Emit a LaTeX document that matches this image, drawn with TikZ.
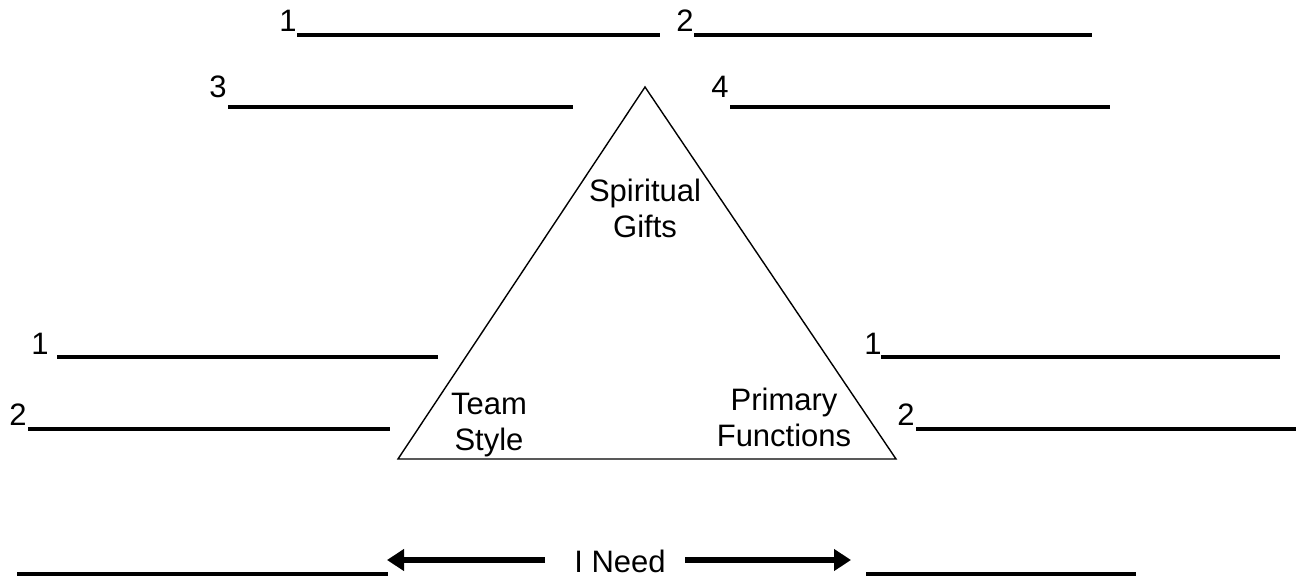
\documentclass[tikz,border=0pt]{standalone}
\usepackage{fontspec}
\setmainfont{Liberation Sans}
\usetikzlibrary{arrows.meta}
\begin{document}
\begin{tikzpicture}[x=1pt,y=-1pt,
  lbl/.style={font=\fontsize{31}{34}\selectfont, inner sep=0pt, anchor=base},
  txt/.style={font=\fontsize{31}{36}\selectfont, align=center, inner sep=0pt},
  blank/.style={line width=4pt},
  tri/.style={line width=1.4pt},
  bigarrow/.style={line width=6pt, -{Triangle[length=17pt,width=21pt]}}]
\useasboundingbox (0,0) rectangle (1304,578);
% top rows
\node[lbl] (n1) at (288,32) {1};
\draw[blank] (297,35) -- (660,35);
\node[lbl] (n2) at (685,32) {2};
\draw[blank] (694,35) -- (1092,35);
\node[lbl] (n3) at (218,97) {3};
\draw[blank] (228,107) -- (573,107);
\node[lbl] (n4) at (720,97) {4};
\draw[blank] (730,107) -- (1110,107);
% triangle
\coordinate (A) at (645,87);
\coordinate (B) at (398,459);
\coordinate (C) at (896,459);
\draw[tri,line join=miter] (A) -- (B) -- (C) -- cycle;
\node[txt] (sg) at (645,208) {Spiritual\\Gifts};
\node[txt] (ts) at (489,425) {Team\\Style};
\node[txt] (pf) at (784,417) {Primary\\Functions};
% left rows
\node[lbl] (l1) at (40,354) {1};
\draw[blank] (57,357) -- (438,357);
\node[lbl] (l2) at (18,425) {2};
\draw[blank] (28,429) -- (390,429);
% right rows
\node[lbl] (r1) at (873,354) {1};
\draw[blank] (881,357) -- (1280,357);
\node[lbl] (r2) at (906,425) {2};
\draw[blank] (916,429) -- (1296,429);
% bottom
\node[txt] (need) at (620,561) {I Need};
\coordinate (la) at (545,560);
\coordinate (lb) at (387,560);
\coordinate (ra) at (685,560);
\coordinate (rb) at (851,560);
\draw[bigarrow] (la) -- (lb);
\draw[bigarrow] (ra) -- (rb);
\draw[blank] (17,574) -- (388,574);
\draw[blank] (866,574) -- (1136,574);
\end{tikzpicture}
\end{document}
